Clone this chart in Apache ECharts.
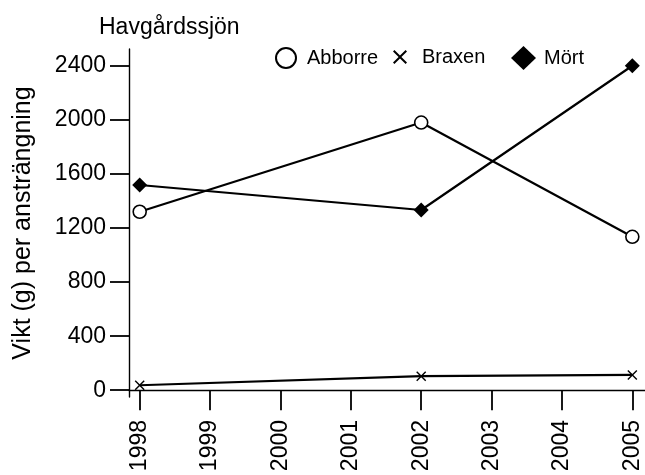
<!DOCTYPE html>
<html>
<head>
<meta charset="utf-8">
<script src="https://cdn.jsdelivr.net/npm/echarts@6/dist/echarts.min.js"></script>
<style>
  html, body { margin: 0; padding: 0; background: #fff; }
  #chart { width: 645px; height: 475px; }
</style>
</head>
<body>
<div id="chart"></div>
<script>
const years = [1998, 2002, 2005]
const abborre = [1320, 1980, 1135]
const braxen = [37, 104, 113]
const mort = [1518, 1333, 2400]
const yTicks = [0, 400, 800, 1200, 1600, 2000, 2400]
const xTicks = [1998, 1999, 2000, 2001, 2002, 2003, 2004, 2005]

const font = 'Liberation Sans, Arial, sans-serif'
const crossPath = 'path://M0,1L1,0L5,4L9,0L10,1L6,5L10,9L9,10L5,6L1,10L0,9L4,5Z'

const pairs = vals => years.map((y, i) => [y, vals[i]])

const chart = echarts.init(document.getElementById('chart'))

const legendBase = {
  orient: 'horizontal',
  selectedMode: false,
  padding: 0,
  textStyle: { fontFamily: font, fontSize: 20, color: '#000' }
}

chart.setOption({
  animation: false,
  title: {
    text: 'Havgårdssjön',
    left: 94, top: 11,
    textStyle: { fontFamily: font, fontSize: 23, fontWeight: 'normal', color: '#000' }
  },
  legend: [
    Object.assign({}, legendBase, {
      data: [{ name: 'Abborre', icon: 'circle' }],
      left: 275, top: 47, itemWidth: 20, itemHeight: 20,
      textStyle: Object.assign({}, legendBase.textStyle, { padding: [0, 0, 0, 6] })
    }),
    Object.assign({}, legendBase, {
      data: [{ name: 'Braxen', icon: crossPath }],
      left: 393, top: 47, itemWidth: 14, itemHeight: 14,
      textStyle: Object.assign({}, legendBase.textStyle, { padding: [4, 0, 0, 10] })
    }),
    Object.assign({}, legendBase, {
      data: [{ name: 'Mört', icon: 'diamond' }],
      left: 511, top: 46, itemWidth: 25, itemHeight: 24,
      textStyle: Object.assign({}, legendBase.textStyle, { padding: [4, 0, 0, 3] })
    })
  ],
  grid: { left: 129, right: 0, top: 49, bottom: 78 },
  xAxis: {
    type: 'value',
    min: 1997.848, max: 2005.18,
    axisLine: { lineStyle: { color: '#000', width: 1.4 } },
    axisTick: { customValues: xTicks, length: 20, lineStyle: { color: '#000', width: 1.8 } },
    axisLabel: {
      customValues: xTicks, rotate: 90, margin: 23,
      formatter: v => String(v),
      fontFamily: font, fontSize: 23, color: '#000'
    },
    splitLine: { show: false }
  },
  yAxis: {
    type: 'value',
    min: -50, max: 2524,
    name: 'Vikt (g) per ansträngning',
    nameLocation: 'middle',
    nameGap: 93,
    nameTextStyle: { fontFamily: font, fontSize: 25, color: '#000' },
    axisLine: { show: true, lineStyle: { color: '#000', width: 1.4 } },
    axisTick: { show: true, customValues: yTicks, length: 19, lineStyle: { color: '#000', width: 1.8 } },
    axisLabel: {
      customValues: yTicks, margin: 23,
      formatter: v => String(v),
      fontFamily: font, fontSize: 23, color: '#000'
    },
    splitLine: { show: false }
  },
  series: [
    {
      name: 'Abborre', type: 'line', data: pairs(abborre),
      symbol: 'circle', symbolSize: 13,
      lineStyle: { color: '#000', width: 2.2 },
      itemStyle: { color: '#fff', borderColor: '#000', borderWidth: 1.6 }
    },
    {
      name: 'Braxen', type: 'line', data: pairs(braxen),
      symbol: crossPath, symbolSize: 10,
      lineStyle: { color: '#000', width: 2.2 },
      itemStyle: { color: '#000' }
    },
    {
      name: 'Mört', type: 'line', data: pairs(mort),
      symbol: 'diamond', symbolSize: 15,
      lineStyle: { color: '#000', width: 2.2 },
      itemStyle: { color: '#000' }
    }
  ]
})
</script>
</body>
</html>
